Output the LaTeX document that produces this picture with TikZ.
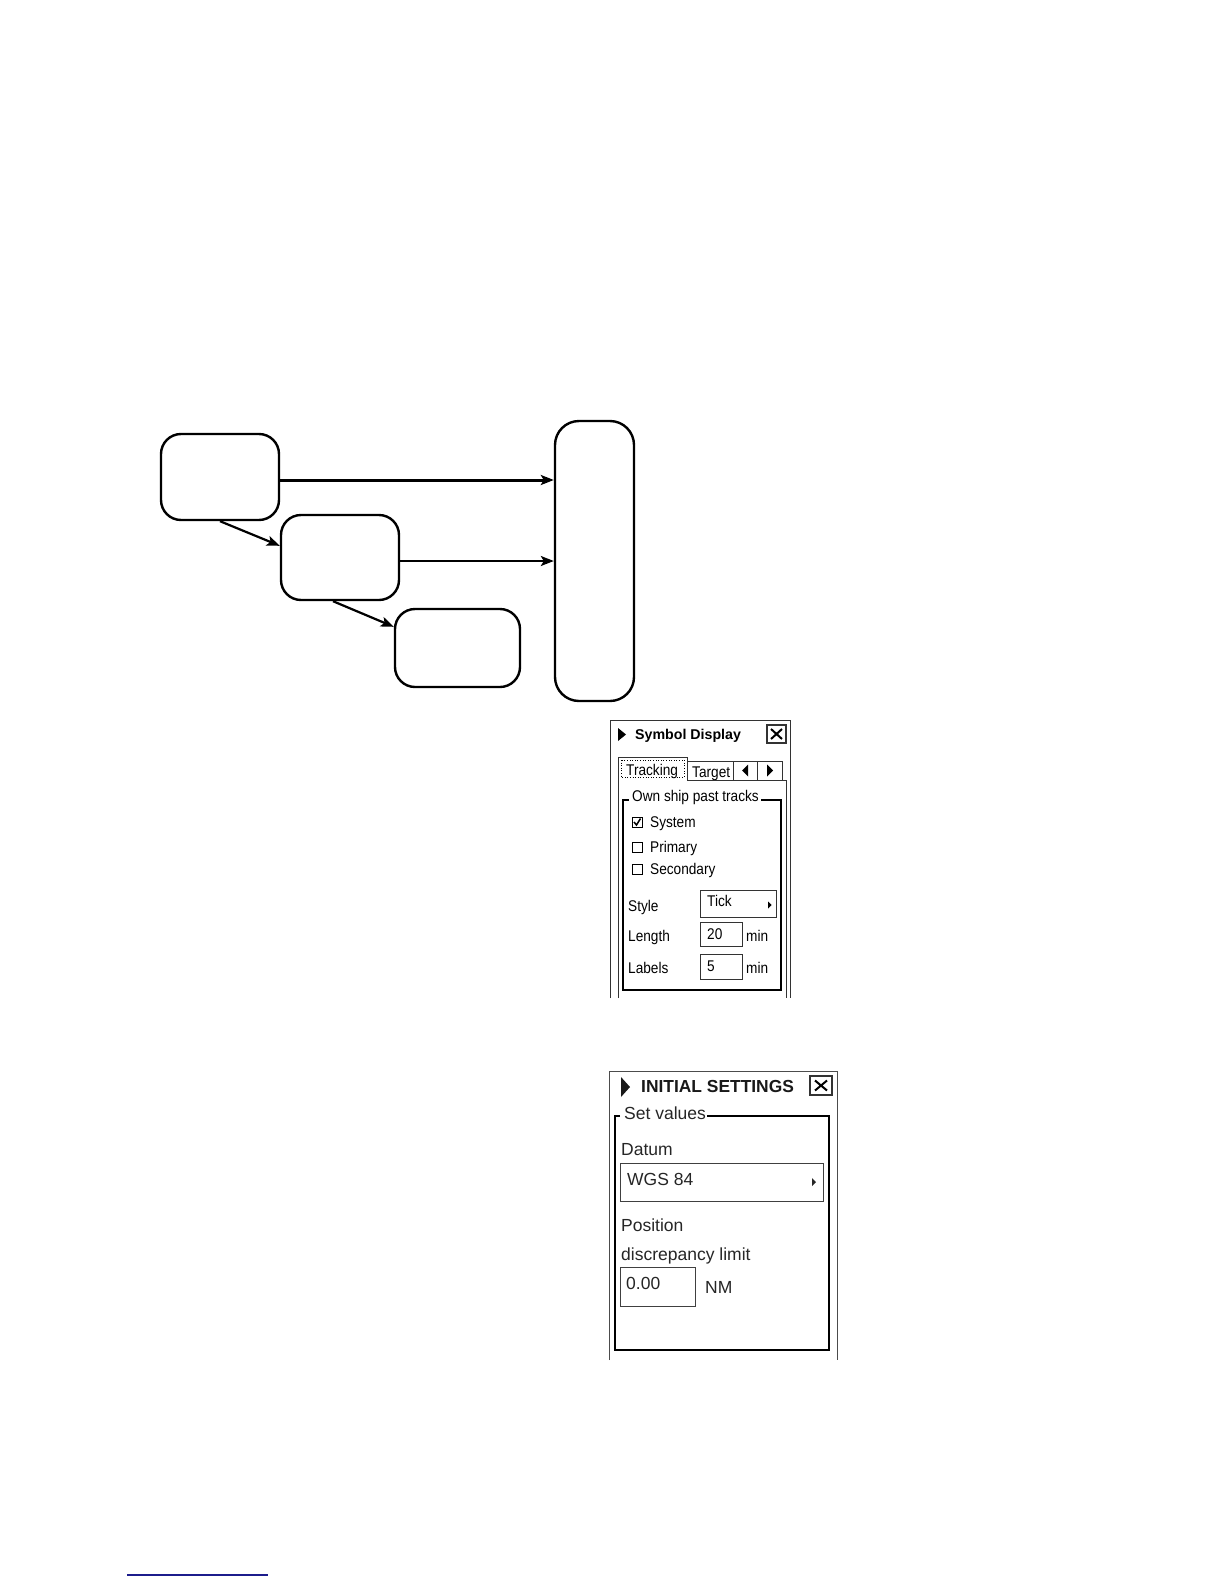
\documentclass[tikz,border=0pt]{standalone}
\usepackage{fontspec}
\setmainfont{Liberation Sans}
\newfontfamily\uia[FakeStretch=0.88]{Liberation Sans}
\usetikzlibrary{arrows.meta}
\definecolor{linkblue}{RGB}{28,28,140}
\begin{document}
\begin{tikzpicture}[x=1pt,y=-1pt,
  flowbox/.style={draw, line width=2.4pt, rounded corners=20pt, inner sep=0pt},
  flowarrow/.style={line width=2.2pt, -{Stealth[length=13pt,width=10pt,inset=3pt]}},
  uitext/.style={anchor=base west, inner sep=0pt, font=\uia\fontsize{15.5}{17}\selectfont, text=black},
  uititle/.style={anchor=base west, inner sep=0pt, font=\bfseries\fontsize{14.2}{16}\selectfont, text=black},
  uitextb/.style={anchor=base west, inner sep=0pt, font=\fontsize{17.5}{20}\selectfont, text=black!85},
  uititleb/.style={anchor=base west, inner sep=0pt, font=\bfseries\fontsize{17.4}{20}\selectfont, text=black!90},
  thinline/.style={line width=1pt, draw=black!80},
  thickline/.style={line width=2.6pt, draw=black}]
\useasboundingbox[fill=white] (0,0) rectangle (1224,1584);

% ---------- flow chart ----------
\node[flowbox, minimum width=118pt, minimum height=86pt] (A) at (220,477) {};
\node[flowbox, minimum width=118pt, minimum height=85pt] (B) at (340,557.5) {};
\node[flowbox, minimum width=125pt, minimum height=78pt] (C) at (457.5,648) {};
\node[flowbox, minimum width=79pt, minimum height=280pt, rounded corners=24pt] (D) at (594.5,561) {};

\draw[flowarrow, line width=3pt] ([yshift=-3pt]A.east) -- ([yshift=-3pt]A.east -| D.west);
\draw[flowarrow, line width=2pt] ([yshift=-3.5pt]B.east) -- ([yshift=-3.5pt]B.east -| D.west);
\draw[flowarrow] (A.south) -- ([yshift=-32pt]B.north west);
\draw[flowarrow] ([xshift=-7pt]B.south) -- ([yshift=-19pt]C.north west);

% ---------- Symbol Display panel ----------
\draw[thinline] (610,998) -- (610,720) -- (790,720) -- (790,998);
\fill (618,728) -- (626,734.5) -- (618,741) -- cycle;
\node[uititle] (sdtitle) at (635,739) {Symbol Display};
\draw[thinline, line width=1.2pt] (767,725) rectangle (786,743);
\draw[line width=2pt] (771,729) -- (782,739) (782,729) -- (771,739);

\draw[thinline] (618,998) -- (618,757) -- (687,757) -- (687,780) -- (786,780) -- (786,998);
\draw[dotted, line width=0.6pt] (621,760) rectangle (684,777);
\draw[thinline] (687,761) -- (733,761);
\draw[thinline] (733,761) rectangle (757,780);
\draw[thinline] (757,761) rectangle (782,780);
\fill (742,770.5) -- (748,764.5) -- (748,776.5) -- cycle;
\fill (767,764.5) -- (773,770.5) -- (767,776.5) -- cycle;
\node[uitext] (tabtrack) at (626,775) {Tracking};
\begin{scope}
\clip (688,762) rectangle (732.5,779);
\node[uitext] (tabtarget) at (692,777) {Target};
\end{scope}

\draw[thickline] (629,800) -- (623,800) -- (623,990) -- (781,990) -- (781,800) -- (761,800);
\node[uitext] (ownship) at (632,801) {Own ship past tracks};

\draw[line width=1pt] (632,817) rectangle (642,827);
\draw[line width=1.5pt] (634,822) -- (636.5,825) -- (640.5,818.5);
\node[uitext] (sys) at (650,827) {System};
\draw[line width=1pt] (632,842) rectangle (642,852);
\node[uitext] (prim) at (650,852) {Primary};
\draw[line width=1pt] (632,864) rectangle (642,874);
\node[uitext] (sec) at (650,874) {Secondary};

\node[uitext] (style) at (628,911) {Style};
\draw[thinline] (700,890) rectangle (776,917);
\node[uitext] (tick) at (707,906) {Tick};
\fill (768,901.5) -- (771.5,905) -- (768,908.5) -- cycle;

\node[uitext] (len) at (628,941) {Length};
\draw[thinline] (700,922) rectangle (742,946);
\node[uitext] (lenv) at (707,939) {20};
\node[uitext] (lenu) at (746,941) {min};

\node[uitext] (lab) at (628,973) {Labels};
\draw[thinline] (700,954) rectangle (742,979);
\node[uitext] (labv) at (707,971) {5};
\node[uitext] (labu) at (746,973) {min};

% ---------- Initial Settings panel ----------
\draw[thinline, draw=black!70] (609,1360) -- (609,1071) -- (837,1071) -- (837,1360);
\fill[black!90] (621,1077) -- (630,1087) -- (621,1097) -- cycle;
\node[uititleb] (istitle) at (641,1092) {INITIAL SETTINGS};
\draw[thinline, line width=1.3pt] (810,1076) rectangle (832,1095);
\draw[line width=2pt] (815,1080.5) -- (827,1090.5) (827,1080.5) -- (815,1090.5);

\draw[thickline] (620,1116) -- (615,1116) -- (615,1350) -- (829,1350) -- (829,1116) -- (707,1116);
\node[uitextb] (setval) at (624,1119) {Set values};
\node[uitextb] (datum) at (621,1155) {Datum};
\draw[thinline, draw=black!75] (620,1163) rectangle (823,1201);
\node[uitextb] (wgs) at (627,1185) {WGS 84};
\fill[black!85] (812,1178) -- (816,1182) -- (812,1186) -- cycle;
\node[uitextb] (pos) at (621,1231) {Position};
\node[uitextb] (disc) at (621,1260) {discrepancy limit};
\draw[thinline, draw=black!75] (620,1267) rectangle (695,1306);
\node[uitextb] (val) at (626,1289) {0.00};
\node[uitextb] (nm) at (705,1293) {NM};

% ---------- footer link line ----------
\coordinate (l1) at (127,1575);
\coordinate (l2) at (268,1575);
\draw[line width=2pt, draw=linkblue] (l1) -- (l2);
\end{tikzpicture}
\end{document}
